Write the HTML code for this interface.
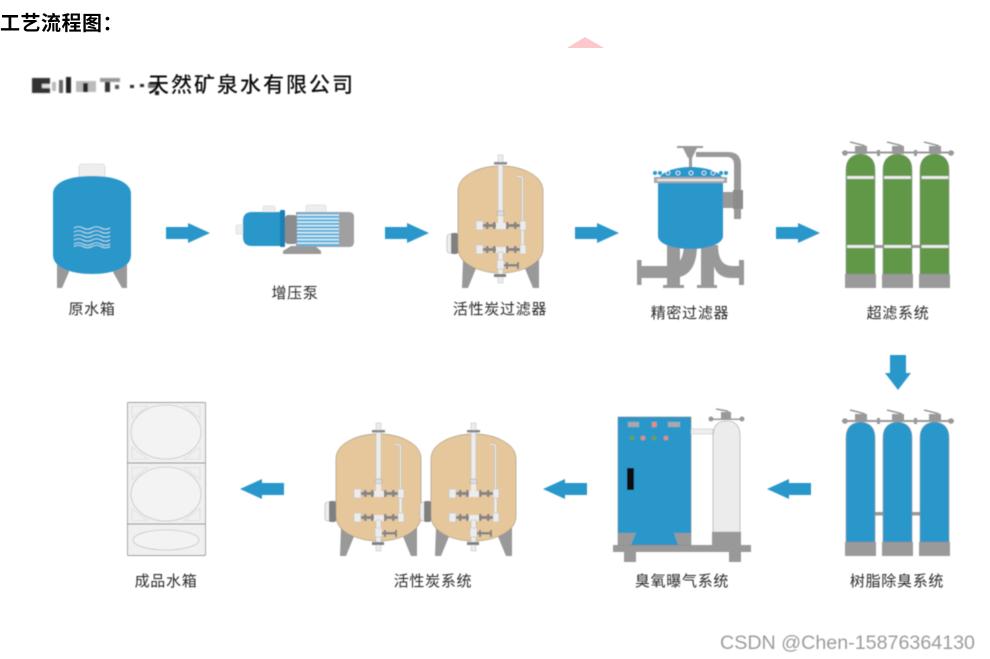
<!DOCTYPE html>
<html><head><meta charset="utf-8"><style>
html,body{margin:0;padding:0;background:#fff;width:990px;height:659px;overflow:hidden}
svg{display:block}
text{font-family:"Liberation Sans","Noto Sans CJK SC",sans-serif}
.l{font-size:15px;letter-spacing:.7px;fill:#2b2b2b;text-anchor:middle}
</style></head><body>
<svg width="990" height="659" viewBox="0 0 990 659" xmlns="http://www.w3.org/2000/svg">
<defs>
<filter id="b" x="-5%" y="-5%" width="110%" height="110%"><feGaussianBlur stdDeviation="0.45"/></filter>
<filter id="m" x="-10%" y="-30%" width="120%" height="160%"><feGaussianBlur stdDeviation="0.9"/></filter>
<polygon id="ar" points="0,-6 22,-6 22,-10 44,0 22,10 22,6 0,6" fill="#2a97cb"/>
<polygon id="al" points="44,-6 22,-6 22,-10 0,0 22,10 22,6 44,6" fill="#2a97cb"/>
<g id="row">
<rect x="482" y="224" width="38" height="3" fill="#858585"/>
<rect x="486" y="222" width="2.500" height="7" fill="#858585"/>
<rect x="506" y="222" width="2.500" height="7" fill="#858585"/>
<rect x="514" y="222" width="2.500" height="7" fill="#858585"/>
<rect x="493" y="222" width="2.500" height="7" fill="#858585"/>
<rect x="476" y="221" width="7" height="9" fill="#ececec" stroke="#bbb" stroke-width=".5"/>
<rect x="520" y="221" width="6" height="9" fill="#ececec" stroke="#bbb" stroke-width=".5"/>
<rect x="496" y="223" width="10" height="6" fill="#ececec"/>
</g>
<g id="carbon">
<polygon points="463,260 478,263 477,266 468,288 462,288" fill="#999"/>
<polygon points="525,263 539,260 539,288 533,288 524,266" fill="#999"/>
<rect x="447" y="234" width="12" height="19" rx="3" fill="#eee" stroke="#aaa" stroke-width=".6"/>
<rect x="451" y="233" width="7" height="21" rx="2" fill="#808080"/>
<path d="M458,191 C458,175 480,166 500.500,166 C521,166 543,175 543,191 L543,248 C543,264 521,273 500.500,273 C480,273 458,264 458,248 Z" fill="#e6c79b" stroke="#a59a86" stroke-width=".7"/>
<rect x="498" y="155" width="5" height="60" fill="#ececec" stroke="#bbb" stroke-width=".5"/>
<rect x="494" y="162" width="13" height="2.500" fill="#8a8a8a"/>
<rect x="497" y="211" width="7" height="5" rx="2" fill="#ddd" stroke="#999" stroke-width=".5"/>
<rect x="498" y="216" width="5" height="8" fill="#ececec"/>
<path d="M522.500,222 L522.500,179 Q522.500,176.500 520,176.500 L517,176.500" fill="none" stroke="#aaa" stroke-width="2.200"/>
<path d="M522.500,222 L522.500,179 Q522.500,176.500 520,176.500 L517,176.500" fill="none" stroke="#f1f1f1" stroke-width="1.300"/>
<rect x="521" y="228" width="3" height="20" fill="#ececec" stroke="#bbb" stroke-width=".4"/>
<use href="#row"/>
<use href="#row" y="24"/>
<rect x="498" y="252" width="5" height="31" fill="#ececec" stroke="#bbb" stroke-width=".5"/>
<rect x="497" y="260" width="7" height="9" fill="#ececec" stroke="#bbb" stroke-width=".5"/>
<rect x="504" y="264" width="14" height="2.500" fill="#858585"/>
<rect x="506" y="262" width="2" height="7" fill="#858585"/>
<rect x="517" y="262" width="2" height="7" fill="#858585"/>
<rect x="494" y="274" width="12" height="3" fill="#808080"/>
</g>
<g id="col">
<rect x="0" y="120" width="31" height="14" fill="#9a9a9a"/>
<path d="M1,120 L1,16 Q1,1 15.500,0 Q30,1 30,16 L30,120 Z" fill="currentColor" stroke="#8c8c8c" stroke-width=".5"/>
<rect x="10" y="-8" width="12" height="8" fill="#999"/>
<path d="M5,-12 L17,-9 L20,-8" fill="none" stroke="#999" stroke-width="1.600"/>
</g>
<g id="corn" fill="none" stroke="#ddd" stroke-width=".8">
<path d="M132,406 L148,406 L132,418 Z"/><path d="M200,406 L184,406 L200,418 Z"/>
<path d="M132,459 L148,459 L132,447 Z"/><path d="M200,459 L184,459 L200,447 Z"/>
</g>
</defs>

<text x="0" y="30" style="font-size:20px;font-weight:700;letter-spacing:.5px" fill="#000">工艺流程图：</text>
<polygon points="567,48 585,37 604,48" fill="#fcc8cb"/>

<g filter="url(#m)">
<rect x="32" y="78" width="18" height="15" fill="#333"/>
<rect x="42" y="84" width="8" height="4" fill="#ddd"/>
<rect x="52" y="82" width="4" height="9" fill="#bbb"/>
<rect x="59" y="80" width="4" height="13" fill="#666"/>
<rect x="66" y="77" width="5" height="16" fill="#222"/>
<rect x="76" y="81" width="20" height="11" fill="#bbb"/>
<rect x="83" y="83" width="5" height="9" fill="#222"/>
<rect x="100" y="78" width="20" height="4" fill="#999"/>
<rect x="105" y="82" width="5" height="10" fill="#333"/>
<rect x="115" y="85" width="4" height="4" fill="#555"/>
<rect x="130" y="85" width="4" height="3" fill="#222"/>
<rect x="140" y="84" width="4" height="3" fill="#222"/>
<rect x="148" y="83" width="10" height="5" fill="#777"/>
<rect x="155" y="91" width="4" height="4" fill="#111"/>
</g>

<g filter="url(#b)">
<text x="148" y="92" style="font-size:21px;letter-spacing:2px;font-weight:500" fill="#111">天然矿泉水有限公司</text>

<!-- raw water tank -->
<rect x="79" y="164" width="26" height="14" rx="3" fill="#eee" stroke="#ccc" stroke-width=".6"/>
<polygon points="57,262 70,266 69,272 62,288 57,288" fill="#999"/>
<polygon points="113,272 114,266 127,262 127,288 122,288" fill="#999"/>
<path d="M53,194 C53,181 72,176 92,176 C112,176 131,181 131,194 L131,255 C131,268 112,274 92,274 C72,274 53,268 53,255 Z" fill="#2a97cb"/>
<g fill="none" stroke="#cfe7f3" stroke-width=".8">
<path id="w" d="M74,228 q4.500,-2.500 9,0 t9,0 t9,0 t9,0"/>
<use href="#w" y="4"/><use href="#w" y="8"/><use href="#w" y="12"/><use href="#w" y="16"/><use href="#w" y="18.500"/>
</g>
<use href="#ar" x="166" y="233"/>

<!-- pump -->
<rect x="236" y="225" width="8" height="9" rx="1.500" fill="#eee" stroke="#ccc" stroke-width=".5"/>
<rect x="263" y="206" width="12" height="7" rx="2" fill="#eee" stroke="#ccc" stroke-width=".5"/>
<rect x="306" y="205" width="20" height="8" rx="1.500" fill="#eee" stroke="#ccc" stroke-width=".5"/>
<polygon points="291,246 315,246 321,251 321,254 283,254 283,251" fill="#999"/>
<path d="M296,212 L349,212 Q354,212 354,217 L354,242 Q354,247 349,247 L296,247 Z" fill="#a0a0a0"/>
<rect x="285" y="215" width="12" height="29" rx="3" fill="#8c8c8c"/>
<path d="M281,212 L252,212 Q243,212 243,221 L243,237 Q243,246 252,246 L281,246 Z" fill="#2a97cb"/>
<rect x="280" y="210" width="5" height="37" rx="1" fill="#1f80b5"/>
<rect x="297" y="213" width="42" height="33" fill="#5ab0dc"/>
<g fill="#e9f3f8"><rect x="297" y="214.500" width="42" height="1.300"/><rect x="297" y="218" width="42" height="1.300"/><rect x="297" y="221.500" width="42" height="1.300"/><rect x="297" y="225" width="42" height="1.300"/><rect x="297" y="228.500" width="42" height="1.300"/><rect x="297" y="232" width="42" height="1.300"/><rect x="297" y="235.500" width="42" height="1.300"/><rect x="297" y="239" width="42" height="1.300"/><rect x="297" y="242.500" width="42" height="1.300"/></g>
<use href="#ar" x="385" y="233"/>

<!-- carbon filter -->
<use href="#carbon"/>
<use href="#ar" x="575" y="233"/>

<!-- precision filter -->
<g fill="#999">
<rect x="637" y="260" width="4.500" height="25"/>
<rect x="739" y="260" width="5" height="25"/>
<rect x="663" y="285" width="21" height="3"/>
<rect x="697" y="285" width="20" height="3"/>
<rect x="667" y="245" width="13" height="42"/>
<rect x="701" y="245" width="13" height="42"/>
<path d="M641,266 L670,266 Q683,266 684,245 L697,245 Q697,278 672,278 L641,278 Z"/>
<path d="M713,245 L718,245 Q718,266 732,266 L740,266 L740,278 L732,278 Q713,278 713,258 Z"/>
<rect x="689" y="150" width="3" height="20"/>
<rect x="677" y="146" width="26" height="2"/>
<path d="M683,148 L697,148 L692,158 L688,158 Z"/>
<path d="M696,152 L728,152 Q741,152 741,165 L741,191 L734,191 L734,165 Q734,157 727,157 L696,157 Z"/>
<rect x="721" y="192" width="13" height="16"/>
<rect x="734" y="208" width="7" height="11"/>
</g>
<rect x="733" y="190" width="10" height="19" fill="#8c8c8c"/>
<path d="M658,182 L723,182 L723,236 C723,244 708,249 690.500,249 C673,249 658,244 658,236 Z" fill="#2a97cb"/>
<path d="M660,177 C664,170 680,167 690,167 C702,167 717,170 722,177 Z" fill="#2a97cb"/>
<rect x="654" y="177" width="73" height="6" fill="#a8a8a8"/>
<rect x="657" y="179" width="67" height="2" fill="#e8e8e8"/>
<g fill="none" stroke="#eaf4f9" stroke-width=".8">
<circle cx="668" cy="173" r="2"/><circle cx="678" cy="173" r="2"/><circle cx="691" cy="173" r="2"/><circle cx="704" cy="173" r="2"/><circle cx="713" cy="173" r="2"/>
</g>
<g fill="#2a97cb"><circle cx="655" cy="173" r="2"/><circle cx="660" cy="173" r="2"/><circle cx="721" cy="173" r="2"/><circle cx="726" cy="173" r="2"/></g>
<use href="#ar" x="776" y="233"/>

<!-- UF columns -->
<g fill="#999">
<rect x="842" y="151.500" width="112" height="2"/>
<circle cx="845" cy="153" r="2.800"/><circle cx="951" cy="153" r="2.800"/>
<rect x="877" y="150" width="3" height="6"/><rect x="914" y="150" width="3" height="6"/>
<rect x="875" y="245" width="9" height="3"/><rect x="912" y="245" width="9" height="3"/>
</g>
<g color="#619846">
<use href="#col" x="845" y="154"/><use href="#col" x="882" y="154"/><use href="#col" x="919" y="154"/>
</g>
<g fill="#efefef" stroke="#aaa" stroke-width=".4">
<rect x="847" y="176" width="27" height="3"/><rect x="884" y="176" width="27" height="3"/><rect x="921.500" y="176" width="27" height="3"/>
<rect x="847" y="245" width="27" height="3"/><rect x="884" y="245" width="27" height="3"/><rect x="921.500" y="245" width="27" height="3"/>
</g>
<polygon points="890,355 906,355 906,373 911,373 898,390 885,373 890,373" fill="#2a97cb"/>

<!-- resin columns -->
<g fill="#999">
<rect x="842" y="420" width="112" height="2"/>
<circle cx="845" cy="421" r="2.800"/><circle cx="951" cy="421" r="2.800"/>
<rect x="877" y="418" width="3" height="6"/><rect x="914" y="418" width="3" height="6"/>
<rect x="875" y="512" width="9" height="3.500"/><rect x="912" y="512" width="9" height="3.500"/>
</g>
<g color="#2a97cb">
<use href="#col" x="845" y="422"/><use href="#col" x="882" y="422"/><use href="#col" x="919" y="422"/>
</g>
<use href="#al" x="767" y="489"/>

<!-- ozone -->
<rect x="624" y="552" width="12" height="10" fill="#999"/><rect x="729" y="552" width="12" height="10" fill="#999"/>
<rect x="613" y="545" width="138" height="7" fill="#999"/>
<rect x="618" y="417" width="73" height="128" fill="#2a97cb" stroke="#777" stroke-width=".5"/>
<polygon points="618,533 636,533 631,545 618,545" fill="#999"/>
<polygon points="674,533 691,533 691,545 678,545" fill="#999"/>
<rect x="627" y="468" width="7" height="22" fill="#0a0a0a"/>
<rect x="628" y="422" width="11" height="5" fill="#a9a9a9"/>
<rect x="668" y="422" width="12" height="5" fill="#a9a9a9"/>
<rect x="652" y="422" width="4.500" height="5" fill="#e88a7c"/>
<circle cx="632" cy="438" r="2.300" fill="#6aa24c"/><circle cx="643" cy="438" r="2.300" fill="#e88a7c"/><circle cx="654" cy="438" r="2.300" fill="#6aa24c"/><circle cx="666" cy="438" r="2.300" fill="#e88a7c"/>
<rect x="691" y="429" width="22" height="5" fill="#eee" stroke="#bbb" stroke-width=".5"/>
<rect x="712" y="532" width="29" height="13" fill="#999"/>
<path d="M713,532 L713,436 Q713,421 726.500,421 Q740,421 740,436 L740,532 Z" fill="#ececec" stroke="#999" stroke-width=".6"/>
<rect x="710" y="418.500" width="32" height="1.500" fill="#999"/>
<circle cx="711" cy="419" r="2.500" fill="#999"/><circle cx="742" cy="419" r="2.500" fill="#999"/>
<rect x="721" y="412" width="10" height="7" fill="#999"/>
<path d="M716,409 L727,411 L731,414" fill="none" stroke="#999" stroke-width="1.500"/>
<use href="#al" x="543" y="489"/>

<!-- carbon system -->
<use href="#carbon" x="-122" y="268"/>
<use href="#carbon" x="-27" y="268"/>
<use href="#al" x="240" y="489"/>

<!-- product tank -->
<rect x="127.500" y="402.500" width="78" height="153" rx="1" fill="#f0f0f0" stroke="#999" stroke-width=".9"/>
<line x1="127" y1="463" x2="205" y2="463" stroke="#888" stroke-width=".9"/>
<line x1="127" y1="524" x2="205" y2="524" stroke="#888" stroke-width=".9"/>
<use href="#corn"/><use href="#corn" y="61.500"/>
<g fill="#f3f3f3" stroke="#b5b5b5" stroke-width=".6">
<ellipse cx="166" cy="432" rx="35" ry="27"/><ellipse cx="166" cy="494" rx="35" ry="27"/><ellipse cx="166" cy="540" rx="33" ry="10"/>
</g>

<text class="l" x="92" y="314">原水箱</text>
<text class="l" x="295" y="298">增压泵</text>
<text class="l" x="500" y="314">活性炭过滤器</text>
<text class="l" x="690" y="318">精密过滤器</text>
<text class="l" x="898" y="318">超滤系统</text>
<text class="l" x="897" y="586">树脂除臭系统</text>
<text class="l" x="682" y="586">臭氧曝气系统</text>
<text class="l" x="433" y="586">活性炭系统</text>
<text class="l" x="166" y="586">成品水箱</text>
<text x="720" y="649" textLength="255" lengthAdjust="spacingAndGlyphs" style="font-size:19px" fill="#9c9c9c">CSDN @Chen-15876364130</text>
</g>
</svg>
</body></html>
